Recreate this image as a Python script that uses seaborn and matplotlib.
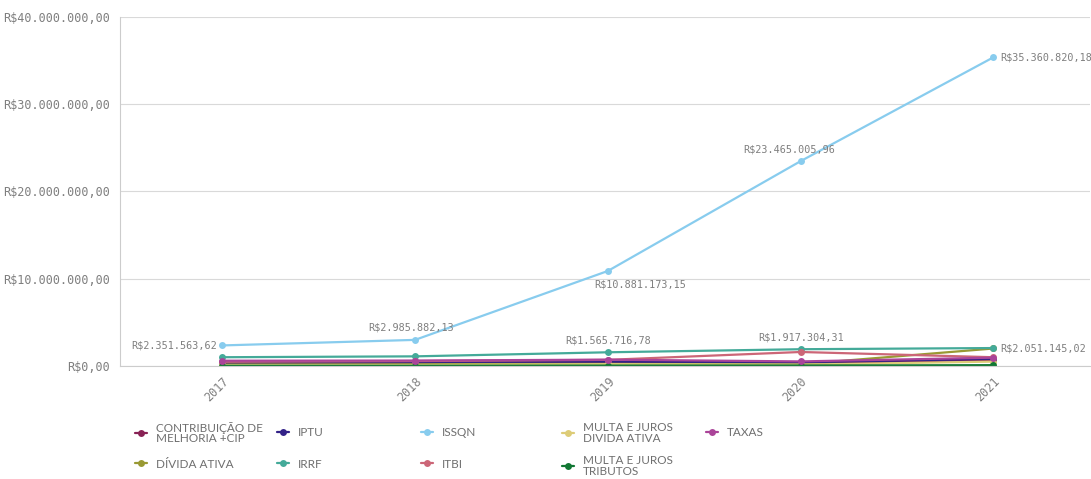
import pandas as pd
import matplotlib.pyplot as plt
import seaborn as sns

# Dados
anos = ["2017", "2018", "2019", "2020", "2021"]
contribuicao = [300000, 330000, 380000, 300000, 700000]
divida_ativa = [180000, 200000, 280000, 200000, 2000000]
iptu = [420000, 450000, 500000, 420000, 820000]
irrf = [1000000, 1100000, 1565716.78, 1917304.31, 2051145.02]
issqn = [2351563.62, 2985882.13, 10881173.15, 23465005.96, 35360820.18]
itbi = [480000, 560000, 700000, 1600000, 1000000]
multa_divida = [100000, 110000, 200000, 150000, 500000]
multa_tributos = [20000, 20000, 40000, 50000, 90000]
taxas = [600000, 620000, 720000, 520000, 950000]

series = {
    "CONTRIBUIÇÃO DE\nMELHORIA +CIP": contribuicao,
    "DÍVIDA ATIVA": divida_ativa,
    "IPTU": iptu,
    "IRRF": irrf,
    "ISSQN": issqn,
    "ITBI": itbi,
    "MULTA E JUROS\nDIVIDA ATIVA": multa_divida,
    "MULTA E JUROS\nTRIBUTOS": multa_tributos,
    "TAXAS": taxas,
}
cores = {
    "CONTRIBUIÇÃO DE\nMELHORIA +CIP": "#882255",
    "DÍVIDA ATIVA": "#999933",
    "IPTU": "#332288",
    "IRRF": "#44aa99",
    "ISSQN": "#88ccee",
    "ITBI": "#cc6677",
    "MULTA E JUROS\nDIVIDA ATIVA": "#ddcc77",
    "MULTA E JUROS\nTRIBUTOS": "#117733",
    "TAXAS": "#aa4499",
}

# Rótulos de valor exibidos
rotulos = [
    ("ISSQN", 0, "R$2.351.563,62", (-4, 0), "right", "center"),
    ("ISSQN", 1, "R$2.985.882,13", (-3, 5), "center", "bottom"),
    ("ISSQN", 2, "R$10.881.173,15", (-10, -6), "left", "top"),
    ("ISSQN", 3, "R$23.465.005,96", (-8, 5), "center", "bottom"),
    ("ISSQN", 4, "R$35.360.820,18", (5, 0), "left", "center"),
    ("IRRF", 2, "R$1.565.716,78", (0, 5), "center", "bottom"),
    ("IRRF", 3, "R$1.917.304,31", (0, 5), "center", "bottom"),
    ("IRRF", 4, "R$2.051.145,02", (5, 0), "left", "center"),
]


def fmt_brl(v, pos=None):
    s = f"{v:,.2f}".replace(",", "X").replace(".", ",").replace("X", ".")
    return "R$" + s


def main():
    sns.set_theme(style="whitegrid")
    plt.rcParams["font.family"] = ["Lato", "DejaVu Sans"]
    cinza = "#7f7f7f"
    mono = "DejaVu Sans Mono"

    linhas = []
    for nome, vals in series.items():
        for ano, v in zip(anos, vals):
            linhas.append({"ano": ano, "valor": v, "serie": nome})
    df = pd.DataFrame(linhas)

    fig = plt.figure(figsize=(10.91, 4.79), dpi=100)
    ax = fig.add_axes([0.110, 0.236, 0.889, 0.729])

    sns.lineplot(data=df, x="ano", y="valor", hue="serie", palette=cores,
                 hue_order=list(series.keys()), marker="o", markersize=5,
                 markeredgewidth=0, linewidth=1.6, ax=ax, sort=False)

    ax.set_xlim(-0.53, 4.5)
    ax.set_ylim(0, 40000000)
    ax.set_yticks([0, 10000000, 20000000, 30000000, 40000000])
    ax.yaxis.set_major_formatter(plt.FuncFormatter(fmt_brl))
    ax.set_xlabel("")
    ax.set_ylabel("")
    ax.grid(axis="x", visible=False)
    ax.grid(axis="y", color="#d9d9d9", linewidth=0.8)
    ax.set_facecolor("white")
    for lado in ["top", "right"]:
        ax.spines[lado].set_visible(False)
    for lado in ["left", "bottom"]:
        ax.spines[lado].set_color("#cccccc")
        ax.spines[lado].set_linewidth(0.8)

    ax.tick_params(axis="y", length=5, color="#cccccc", pad=2, labelcolor=cinza)
    ax.tick_params(axis="x", length=0, pad=6, labelcolor=cinza)
    for t in ax.get_yticklabels():
        t.set_fontfamily(mono)
        t.set_fontsize(8.5)
    for t in ax.get_xticklabels():
        t.set_fontfamily(mono)
        t.set_fontsize(8.5)
        t.set_rotation(45)
        t.set_ha("right")
        t.set_rotation_mode("anchor")

    for serie, i, texto, off, ha, va in rotulos:
        v = series[serie][i]
        ax.annotate(texto, (i, v), xytext=off, textcoords="offset points",
                    ha=ha, va=va, fontsize=7.3, color=cinza, family=mono)

    # Legenda: uma entrada por posição (5 colunas x 2 linhas)
    handles, labels = ax.get_legend_handles_labels()
    ax.get_legend().remove()
    col_x = [135, 277, 421, 562, 706]
    lin_y = [433, 464]
    for k, (h, lab) in enumerate(zip(handles, labels)):
        cx = col_x[k // 2]
        cy = lin_y[k % 2] + (2 if "TRIBUTOS" in lab else 0)
        leg = fig.legend([h], [lab], loc="center left",
                         bbox_to_anchor=(cx / 1091, 1 - cy / 479),
                         frameon=False, fontsize=8.5, labelcolor="#6f6f6f",
                         handlelength=1.0, handletextpad=0.8,
                         borderpad=0, borderaxespad=0)
        for txt in leg.get_texts():
            txt.set_linespacing(0.95)

    fig.savefig("out.png", dpi=100, facecolor="white")


if __name__ == "__main__":
    main()
